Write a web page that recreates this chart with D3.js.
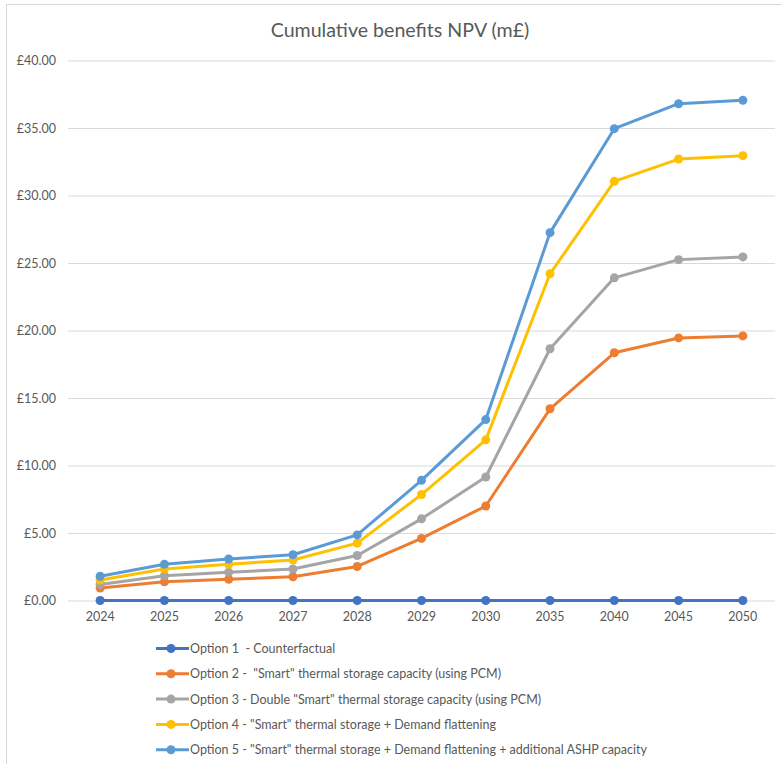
<!DOCTYPE html>
<html>
<head>
<meta charset="utf-8">
<script src="https://cdn.jsdelivr.net/npm/d3@7"></script>
<style>
  html, body { margin: 0; padding: 0; background: #fff; }
  svg text { font-family: Lato, "Open Sans", sans-serif; fill: #595959; white-space: pre; }
</style>
</head>
<body>
<svg id="chart" width="782" height="764"></svg>
<script>
// Years on the category axis
const years = ["2024", "2025", "2026", "2027", "2028", "2029", "2030", "2035", "2040", "2045", "2050"];

// Cumulative benefits NPV, million pounds, one array per option
const option1 = [0, 0, 0, 0, 0, 0, 0, 0, 0, 0, 0];
const option2 = [0.93, 1.39, 1.57, 1.76, 2.52, 4.6, 7.0, 14.2, 18.35, 19.45, 19.6];
const option3 = [1.19, 1.83, 2.09, 2.33, 3.33, 6.05, 9.15, 18.65, 23.9, 25.25, 25.45];
const option4 = [1.52, 2.33, 2.68, 3.0, 4.25, 7.85, 11.9, 24.2, 31.05, 32.7, 32.95];
const option5 = [1.8, 2.68, 3.07, 3.39, 4.86, 8.9, 13.4, 27.25, 34.95, 36.8, 37.05];

const seriesNames = [
  "Option 1  - Counterfactual",
  "Option 2 -  \"Smart\" thermal storage capacity (using PCM)",
  "Option 3 - Double \"Smart\" thermal storage capacity (using PCM)",
  "Option 4 - \"Smart\" thermal storage + Demand flattening",
  "Option 5 - \"Smart\" thermal storage + Demand flattening + additional ASHP capacity"
];
const seriesColors = ["#4472C4", "#ED7D31", "#A5A5A5", "#FFC000", "#5B9BD5"];

const yTicks = [0, 5, 10, 15, 20, 25, 30, 35, 40];
const title = "Cumulative benefits NPV (m£)";

const series = [option1, option2, option3, option4, option5].map((values, i) => ({
  name: seriesNames[i],
  color: seriesColors[i],
  values: values
}));

const svg = d3.select("#chart");

// Chart frame (left and top edges visible)
svg.append("rect")
  .attr("x", 6.5).attr("y", 4.5)
  .attr("width", 900).attr("height", 900)
  .attr("fill", "#fff")
  .attr("stroke", "#d9d9d9").attr("stroke-width", 1);

const plot = { left: 68, right: 775, top: 60.5, bottom: 600.5 };

const x = d3.scaleBand()
  .domain(years)
  .range([plot.left, plot.right]);

const y = d3.scaleLinear()
  .domain([0, 40])
  .range([plot.bottom, plot.top]);

// Title
svg.append("text")
  .attr("x", 400).attr("y", 37)
  .attr("text-anchor", "middle")
  .attr("font-size", 19.6)
  .text(title);

// Horizontal gridlines and value labels
const yAxis = d3.axisLeft(y)
  .tickValues(yTicks)
  .tickSize(-(plot.right - plot.left))
  .tickPadding(12)
  .tickFormat(d => "£" + d3.format(".2f")(d));

const gy = svg.append("g")
  .attr("transform", `translate(${plot.left},0)`)
  .call(yAxis);
gy.select(".domain").remove();
gy.selectAll(".tick line").attr("stroke", "#d9d9d9").attr("stroke-width", 1);
gy.selectAll(".tick text")
  .attr("font-size", 12.5)
  .attr("fill", "#595959")
  .style("font-family", "Lato, sans-serif");

// Category labels
const xAxis = d3.axisBottom(x).tickSize(0).tickPadding(12);
const gx = svg.append("g")
  .attr("transform", `translate(0,${plot.bottom})`)
  .call(xAxis);
gx.select(".domain").remove();
gx.selectAll(".tick text")
  .attr("font-size", 12.5)
  .attr("fill", "#595959")
  .style("font-family", "Lato, sans-serif");

const cx = d => x(d) + x.bandwidth() / 2;

const line = d3.line()
  .x((d, i) => cx(years[i]))
  .y(d => y(d));

// Lines with circle markers, first option drawn first
const g = svg.append("g");
series.forEach(s => {
  g.append("path")
    .datum(s.values)
    .attr("d", line)
    .attr("fill", "none")
    .attr("stroke", s.color)
    .attr("stroke-width", 3)
    .attr("stroke-linejoin", "round");
  g.selectAll(null)
    .data(s.values)
    .enter().append("circle")
    .attr("cx", (d, i) => cx(years[i]))
    .attr("cy", d => y(d))
    .attr("r", 4.5)
    .attr("fill", s.color);
});

// Legend
const legend = svg.append("g");
series.forEach((s, i) => {
  const ly = 648.5 + i * 25.3;
  legend.append("line")
    .attr("x1", 156).attr("x2", 189)
    .attr("y1", ly).attr("y2", ly)
    .attr("stroke", s.color).attr("stroke-width", 3);
  legend.append("circle")
    .attr("cx", 171).attr("cy", ly).attr("r", 4.5)
    .attr("fill", s.color);
  legend.append("text")
    .attr("x", 190).attr("y", ly + 4.5)
    .attr("font-size", 12.5)
    .text(s.name);
});
</script>
</body>
</html>
